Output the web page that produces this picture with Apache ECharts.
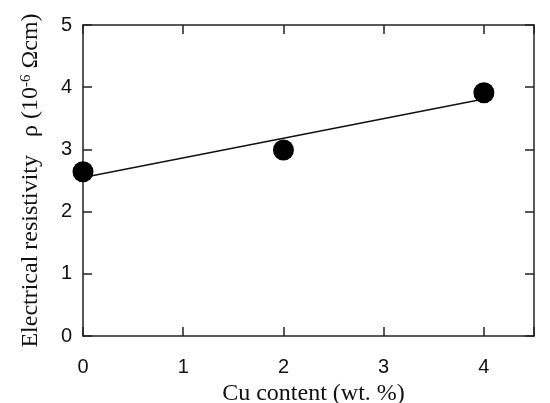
<!DOCTYPE html>
<html>
<head>
<meta charset="utf-8">
<script src="https://cdn.jsdelivr.net/npm/echarts@6/dist/echarts.min.js"></script>
<style>
  html, body { margin: 0; padding: 0; background: #fff; }
  #container { width: 550px; height: 403px; }
</style>
</head>
<body>
<div id="container"></div>
<script>
// measured points
var cuContent = [0, 2, 4];
var resistivity = [2.64, 2.99, 3.91];
// linear fit line (end points)
var fitX = [0, 4];
var fitY = [2.55, 3.81];
var xTicks = [0, 1, 2, 3, 4];
var yTicks = [0, 1, 2, 3, 4, 5];

function pairs(xs, ys) {
    return xs.map(function(x, i) { return [x, ys[i]]; });
}

var axisLine = { show: true, onZero: false, lineStyle: { color: '#222', width: 1.5 } };
var axisTick = { show: true, inside: true, length: 9, lineStyle: { color: '#222', width: 1.5 } };

var dom = document.getElementById("container");
var myChart = echarts.init(dom);
var option = {
    animation: false,
    backgroundColor: '#fff',
    grid: { left: 83, right: 16, top: 25, bottom: 67, containLabel: false, outerBoundsMode: 'none' },
    xAxis: [
        {
            type: 'value', min: 0, max: 4.5, interval: 1,
            axisLine: axisLine, axisTick: axisTick, splitLine: { show: false },
            axisLabel: {
                margin: 21, fontFamily: 'Liberation Sans', fontSize: 20, color: '#111',
                customValues: xTicks
            },
            name: 'Cu content (wt. %)', nameLocation: 'middle', nameGap: 38,
            nameTextStyle: { fontFamily: 'Liberation Serif', fontSize: 24, color: '#111', padding: [0, 0, 0, 10] }
        },
        {
            type: 'value', position: 'top', min: 0, max: 4.5, interval: 1,
            axisLine: axisLine, axisTick: axisTick, splitLine: { show: false },
            axisLabel: { show: false }
        }
    ],
    yAxis: [
        {
            type: 'value', min: 0, max: 5, interval: 1,
            axisLine: axisLine, axisTick: axisTick, splitLine: { show: false },
            axisLabel: {
                margin: 11, fontFamily: 'Liberation Sans', fontSize: 20, color: '#111',
                customValues: yTicks
            },
            name: 'Electrical resistivity   ρ (10{sup|-6} Ωcm)', nameLocation: 'middle', nameGap: 40,
            nameTextStyle: {
                fontFamily: 'Liberation Serif', fontSize: 24, color: '#111',
                rich: {
                    sup: { fontFamily: 'Liberation Serif', fontSize: 15, color: '#111', verticalAlign: 'top', padding: [0, 0, 9, 0] }
                }
            }
        },
        {
            type: 'value', position: 'right', min: 0, max: 5, interval: 1,
            axisLine: axisLine, axisTick: axisTick, splitLine: { show: false },
            axisLabel: { show: false }
        }
    ],
    series: [
        {
            type: 'line', data: pairs(fitX, fitY), symbol: 'none',
            lineStyle: { color: '#111', width: 1.5 }, z: 2
        },
        {
            type: 'scatter', data: pairs(cuContent, resistivity), symbol: 'circle', symbolSize: 21,
            itemStyle: { color: '#000', opacity: 1 }, z: 3
        }
    ]
};
myChart.setOption(option, true);
</script>
</body>
</html>
